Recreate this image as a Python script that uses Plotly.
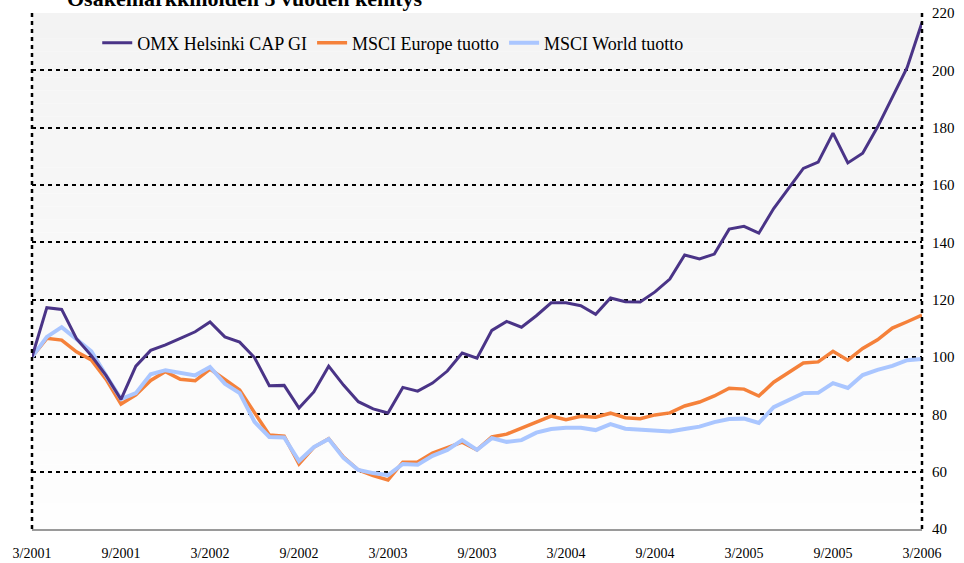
import plotly.graph_objects as go

# ---- data ----
months = [f"{m}/{y}" for y in range(2001, 2007) for m in range(1, 13)]
months = months[2:2 + 61]  # 3/2001 .. 3/2006

omx = [100, 117.2, 116.6, 106.4, 100.5, 93.5, 85.2, 96.8, 102.3, 104.2,
       106.5, 108.8, 112.2, 107.0, 105.2, 99.8, 90.0, 90.1, 82.2, 87.8,
       96.8, 90.2, 84.4, 81.9, 80.5, 89.4, 88.1, 90.9, 95.1, 101.4,
       99.6, 109.3, 112.4, 110.4, 114.4, 118.9, 118.9, 117.9, 114.9, 120.6,
       119.3, 119.2, 122.7, 127.2, 135.6, 134.2, 135.9, 144.6, 145.6, 143.2,
       151.8, 158.7, 165.8, 168.0, 178.1, 167.7, 171.1, 180.2, 190.5, 201.0,
       216.7]
europe = [100, 106.5, 105.9, 101.8, 99.0, 92.2, 83.6, 86.8, 91.8, 94.9,
          92.2, 91.7, 95.8, 92.1, 88.5, 80.6, 72.8, 72.4, 62.7, 68.5,
          71.5, 65.1, 60.6, 58.6, 57.1, 63.3, 63.4, 66.5, 68.3, 70.3,
          67.6, 72.1, 73.1, 75.2, 77.3, 79.4, 78.1, 79.3, 79.0, 80.4,
          78.8, 78.5, 79.8, 80.5, 82.9, 84.3, 86.4, 89.1, 88.8, 86.4,
          91.2, 94.4, 97.9, 98.3, 102.0, 98.9, 103.0, 106.0, 110.1, 112.3,
          114.6]
world = [100, 107.0, 110.4, 106.0, 102.0, 93.5, 85.3, 87.4, 94.0, 95.4,
         94.4, 93.6, 96.5, 90.7, 87.4, 77.4, 72.1, 71.9, 63.7, 68.6,
         71.4, 64.8, 60.6, 59.5, 58.8, 62.7, 62.4, 65.5, 67.6, 71.0,
         67.6, 71.7, 70.4, 71.0, 73.6, 74.9, 75.3, 75.3, 74.5, 76.6,
         75.0, 74.6, 74.2, 74.0, 74.9, 75.7, 77.3, 78.4, 78.5, 77.0,
         82.5, 85.0, 87.4, 87.5, 90.9, 89.2, 93.7, 95.5, 96.9, 98.9,
         99.3]

series_names = ["OMX Helsinki CAP GI", "MSCI Europe tuotto", "MSCI World tuotto"]
tick_labels = ["3/2001", "9/2001", "3/2002", "9/2002", "3/2003", "9/2003",
               "3/2004", "9/2004", "3/2005", "9/2005", "3/2006"]
y_ticks = [40, 60, 80, 100, 120, 140, 160, 180, 200, 220]
title_text = "Osakemarkkinoiden 5 vuoden kehitys"

FONT = "Liberation Serif, Times New Roman, serif"

fig = go.Figure()
fig.add_trace(go.Scatter(x=months, y=europe, name=series_names[1], mode="lines",
                         line=dict(color="#F5813A", width=3.5), legendrank=2))
fig.add_trace(go.Scatter(x=months, y=world, name=series_names[2], mode="lines",
                         line=dict(color="#AAC6FF", width=4), legendrank=3))
fig.add_trace(go.Scatter(x=months, y=omx, name=series_names[0], mode="lines",
                         line=dict(color="#4A3487", width=3), legendrank=1))

# subtle background gradient bands (top grey -> bottom white)
shapes = []
n = 40
for k in range(n):
    t = k / (n - 1)
    c = int(round(243 + (254 - 243) * t))
    shapes.append(dict(type="rect", xref="paper", yref="paper",
                       x0=0, x1=1, y0=1 - (k + 1) / n, y1=1 - k / n,
                       fillcolor=f"rgb({c},{c},{c})", line=dict(width=0),
                       layer="below"))
# dotted vertical borders
for xp in (0, 1):
    shapes.append(dict(type="line", xref="paper", yref="paper", x0=xp, x1=xp,
                       y0=0, y1=1, line=dict(color="black", width=2.5, dash="4px,4px"),
                       layer="above"))

fig.update_layout(
    width=964, height=563,
    margin=dict(l=32, r=42, t=13, b=34, autoexpand=False),
    paper_bgcolor="white",
    plot_bgcolor="rgba(0,0,0,0)",
    font=dict(family=FONT, color="black"),
    showlegend=True,
    legend=dict(orientation="h", x=0.0733, y=0.942, xanchor="left", yanchor="middle",
                font=dict(family=FONT, size=18, color="black"),
                bgcolor="rgba(0,0,0,0)", traceorder="normal"),
    shapes=shapes,
    annotations=[dict(text=f"<b>{title_text}</b>", xref="paper", yref="paper",
                      x=(65 - 32) / 890, y=1 + 14 / 516, xanchor="left", yanchor="middle",
                      showarrow=False, font=dict(family=FONT, size=22, color="black"))],
)
fig.update_xaxes(type="category", range=[0, len(months) - 1], automargin=False,
                 tickvals=tick_labels, ticktext=tick_labels, tickangle=0,
                 showgrid=False, zeroline=False, showline=True,
                 linecolor="#9a9a9a", linewidth=2, ticks="",
                 ticklabelstandoff=10,
                 tickfont=dict(family=FONT, size=14, color="black"))
fig.update_yaxes(side="right", range=[40, 220], tickvals=y_ticks, automargin=False,
                 showgrid=True, gridcolor="black", gridwidth=2, griddash="4px,4px",
                 zeroline=False, showline=False, ticks="",
                 ticklabelstandoff=9,
                 tickfont=dict(family=FONT, size=15, color="black"))

fig.write_html("out.html", config={"displayModeBar": False},
               post_script="document.body.style.margin='0';document.body.style.overflow='hidden';")
